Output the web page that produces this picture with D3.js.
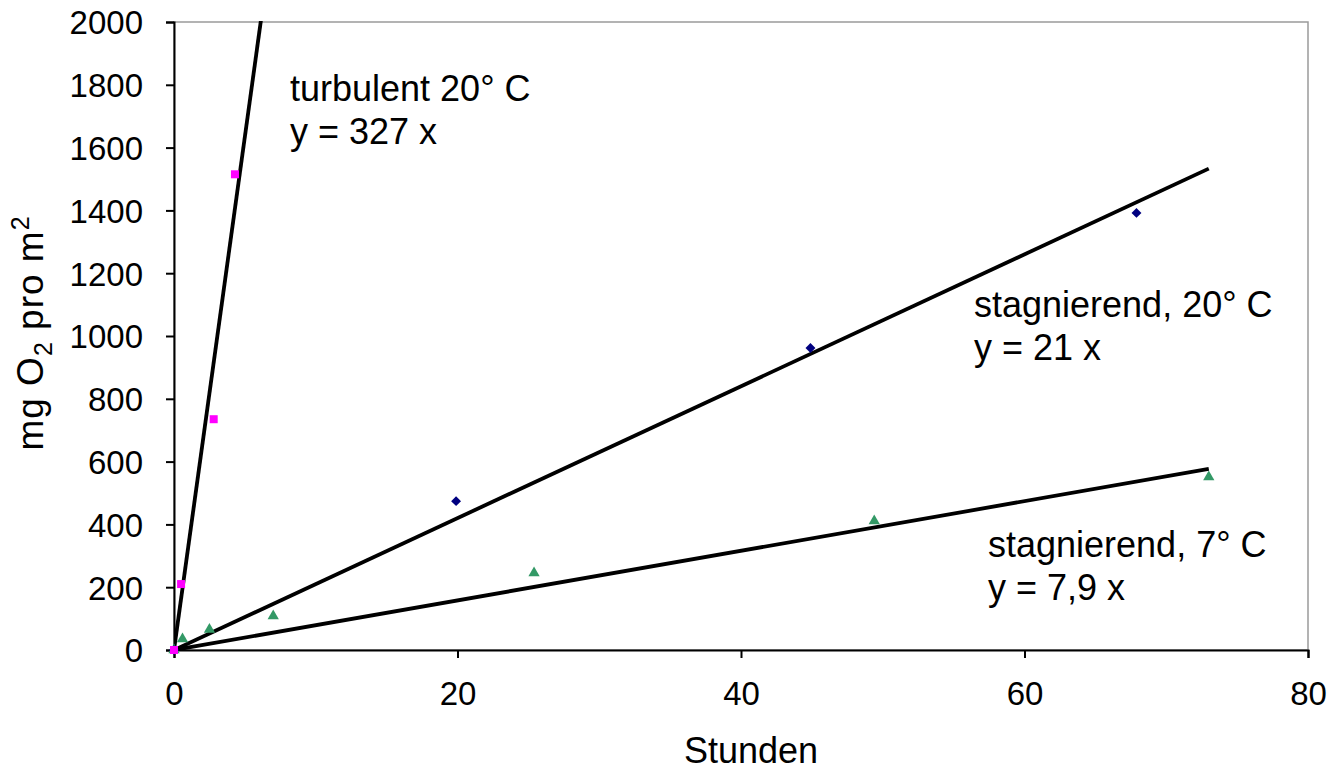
<!DOCTYPE html>
<html>
<head>
<meta charset="utf-8">
<script src="https://cdn.jsdelivr.net/npm/d3@7"></script>
<style>
  body { margin: 0; background: #fff; }
  svg { font-family: "Liberation Sans", Arial, sans-serif; }
</style>
</head>
<body>
<svg width="1336" height="774"></svg>
<script>
// measured O2 uptake per m2 over time
const turbulentHours = [0, 0.5, 2.8, 4.3];
const turbulentO2 = [0, 210, 735, 1515];
const stag20Hours = [0, 19.9, 44.9, 67.9];
const stag20O2 = [0, 474, 962, 1392];
const stag7Hours = [0, 0.6, 2.5, 7.0, 25.4, 49.4, 73];
const stag7O2 = [0, 35, 65, 108, 245, 411, 551];

// fitted slopes (through origin) and fit ranges
const slopes = [327, 21, 7.9];
const fitEnds = [6.2, 73, 73];

const xTicks = [0, 20, 40, 60, 80];
const yTicks = [0, 200, 400, 600, 800, 1000, 1200, 1400, 1600, 1800, 2000];

const svg = d3.select('svg');
const margin = {left: 174, right: 28, top: 22, bottom: 124};
const width = 1336 - margin.left - margin.right;
const height = 774 - margin.top - margin.bottom;

const x = d3.scaleLinear().domain([0, 80]).range([0, width]);
const y = d3.scaleLinear().domain([0, 2000]).range([height, 0]);

svg.append('defs').append('clipPath').attr('id', 'plot')
  .append('rect').attr('width', width).attr('height', height + 2).attr('y', -1);

const g = svg.append('g').attr('transform', `translate(${margin.left},${margin.top})`);

// plot frame (top/right in grey)
g.append('rect')
  .attr('width', width).attr('height', height)
  .attr('fill', 'none').attr('stroke', '#9a9a9a').attr('stroke-width', 1.5);

const yAxis = g.append('g')
  .call(d3.axisLeft(y).tickValues(yTicks).tickFormat(d3.format('d'))
    .tickSize(8).tickPadding(23).tickSizeOuter(8));
const xAxis = g.append('g')
  .attr('transform', `translate(0,${height})`)
  .call(d3.axisBottom(x).tickValues(xTicks).tickFormat(d3.format('d'))
    .tickSize(8).tickPadding(24).tickSizeOuter(8));

[yAxis, xAxis].forEach(a => {
  a.selectAll('path, line').attr('stroke', '#000').attr('stroke-width', 2);
  a.selectAll('text').attr('font-size', 33).attr('fill', '#000')
    .attr('font-family', '"Liberation Sans", Arial, sans-serif');
});
yAxis.selectAll('text').attr('dy', '0.36em');

// regression lines
const lines = g.append('g').attr('clip-path', 'url(#plot)');
slopes.forEach((s, i) => {
  lines.append('line')
    .attr('x1', x(0)).attr('y1', y(0))
    .attr('x2', x(fitEnds[i])).attr('y2', y(s * fitEnds[i]))
    .attr('stroke', '#000').attr('stroke-width', 3.8);
});

const pts = (xs, ys) => xs.map((v, i) => [v, ys[i]]);

// stagnant 7 C: green triangles
g.selectAll('.tri').data(pts(stag7Hours, stag7O2)).enter().append('path')
  .attr('class', 'tri')
  .attr('d', d3.symbol(d3.symbolTriangle, 55))
  .attr('transform', d => `translate(${x(d[0])},${y(d[1])})`)
  .attr('fill', '#339966');

// stagnant 20 C: navy diamonds
g.selectAll('.dia').data(pts(stag20Hours, stag20O2)).enter().append('rect')
  .attr('class', 'dia')
  .attr('x', -3.5).attr('y', -3.5).attr('width', 7).attr('height', 7)
  .attr('transform', d => `translate(${x(d[0])},${y(d[1])}) rotate(45)`)
  .attr('fill', '#000080');

// turbulent 20 C: magenta squares
g.selectAll('.sq').data(pts(turbulentHours, turbulentO2)).enter().append('rect')
  .attr('class', 'sq')
  .attr('x', d => x(d[0]) - 4).attr('y', d => y(d[1]) - 4)
  .attr('width', 8).attr('height', 8)
  .attr('fill', '#ff00ff');

// annotations
const notes = [
  {tx: 290, ty: 101, lines: ['turbulent 20° C', 'y = 327 x']},
  {tx: 974, ty: 317, lines: ['stagnierend, 20° C', 'y = 21 x']},
  {tx: 988, ty: 557, lines: ['stagnierend, 7° C', 'y = 7,9 x']}
];
notes.forEach(n => {
  n.lines.forEach((t, i) => {
    svg.append('text')
      .attr('x', n.tx).attr('y', n.ty + i * 43)
      .attr('font-size', 36).attr('fill', '#000')
      .text(t);
  });
});

// axis titles
svg.append('text')
  .attr('x', 751).attr('y', 763)
  .attr('text-anchor', 'middle').attr('font-size', 36)
  .text('Stunden');

const yt = svg.append('text')
  .attr('transform', `translate(43,333) rotate(-90)`)
  .attr('text-anchor', 'middle').attr('font-size', 37)
  .attr('letter-spacing', 1);
yt.append('tspan').text('mg O');
yt.append('tspan').attr('font-size', 25).attr('dy', 9).text('2');
yt.append('tspan').attr('dy', -9).text(' pro m');
yt.append('tspan').attr('font-size', 25).attr('dy', -14).text('2');
</script>
</body>
</html>
